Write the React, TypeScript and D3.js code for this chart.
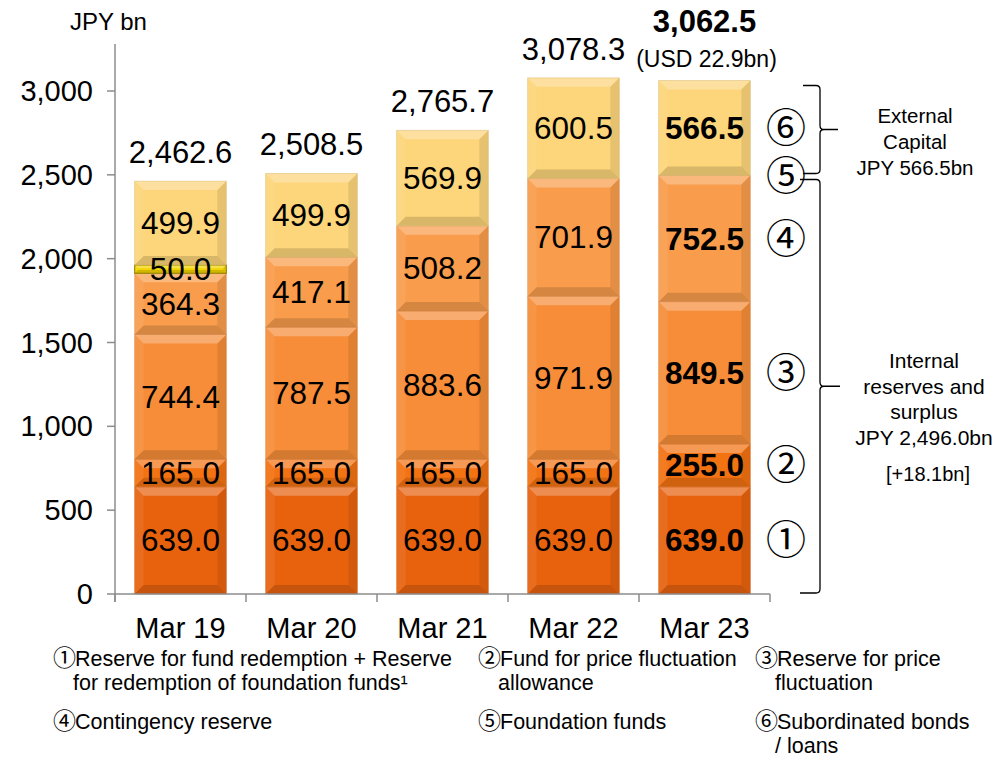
import React from "react";
import * as d3 from "d3";

// Fiscal year-end categories
const categories = ["Mar 19", "Mar 20", "Mar 21", "Mar 22", "Mar 23"];

// Capital components, JPY bn (stacked bottom to top)
const reserveRedemption = [639.0, 639.0, 639.0, 639.0, 639.0]; // ①
const priceFundAllowance = [165.0, 165.0, 165.0, 165.0, 255.0]; // ②
const priceReserve = [744.4, 787.5, 883.6, 971.9, 849.5]; // ③
const contingencyReserve = [364.3, 417.1, 508.2, 701.9, 752.5]; // ④
const foundationFunds = [50.0, 0, 0, 0, 0]; // ⑤
const subordinatedDebt = [499.9, 499.9, 569.9, 600.5, 566.5]; // ⑥

const totals = [2462.6, 2508.5, 2765.7, 3078.3, 3062.5];
const totalLabels = ["2,462.6", "2,508.5", "2,765.7", "3,078.3", "3,062.5"];
const yTicks = [0, 500, 1000, 1500, 2000, 2500, 3000];

const seriesKeys = ["s1", "s2", "s3", "s4", "s5", "s6"];
const seriesMarks = ["①", "②", "③", "④", "⑤", "⑥"];
const seriesColors = ["#E8620E", "#F37212", "#F78D38", "#F99D4C", "#F3D400", "#FDD57A"];

const legendRows = [
  { x: 53, y: 666, mark: "①", lines: ["Reserve for fund redemption + Reserve", "for redemption of foundation funds¹"] },
  { x: 478, y: 666, mark: "②", lines: ["Fund for price fluctuation", "allowance"] },
  { x: 755, y: 666, mark: "③", lines: ["Reserve for price", "fluctuation"] },
  { x: 53, y: 729, mark: "④", lines: ["Contingency reserve"] },
  { x: 478, y: 729, mark: "⑤", lines: ["Foundation funds"] },
  { x: 755, y: 729, mark: "⑥", lines: ["Subordinated bonds", "/ loans"] },
];

const externalText = ["External", "Capital", "JPY 566.5bn"];
const internalText = ["Internal", "reserves and", "surplus", "JPY 2,496.0bn"];
const internalDelta = "[+18.1bn]";

const FONT = "'Liberation Sans', Arial, 'Noto Sans CJK JP', sans-serif";
const MARK_FONT = "'Noto Sans CJK JP', 'DejaVu Sans', sans-serif";

const rows = categories.map((c, i) => ({
  cat: c,
  s1: reserveRedemption[i],
  s2: priceFundAllowance[i],
  s3: priceReserve[i],
  s4: contingencyReserve[i],
  s5: foundationFunds[i],
  s6: subordinatedDebt[i],
}));

function fmt(v: number) {
  return d3.format(",.1f")(v);
}

function BevelRect({ x, y, w, h, color, thin }: { x: number; y: number; w: number; h: number; color: string; thin?: boolean }) {
  const b = Math.min(9, h / 2.6);
  const dark = d3.color(color)!.darker(thin ? 1.4 : 0.5).formatHex();
  return (
    <g>
      <rect x={x} y={y} width={w} height={h} fill={color} />
      {/* top bevel */}
      <polygon points={`${x},${y} ${x + w},${y} ${x + w - b},${y + b} ${x + b},${y + b}`} fill="#fff" opacity={0.28} />
      {/* left bevel */}
      <polygon points={`${x},${y} ${x + b},${y + b} ${x + b},${y + h - b} ${x},${y + h}`} fill="#fff" opacity={0.07} />
      {/* right bevel */}
      <polygon points={`${x + w},${y} ${x + w},${y + h} ${x + w - b},${y + h - b} ${x + w - b},${y + b}`} fill="#000" opacity={0.09} />
      {/* bottom bevel */}
      <polygon points={`${x},${y + h} ${x + b},${y + h - b} ${x + w - b},${y + h - b} ${x + w},${y + h}`} fill="#000" opacity={0.14} />
      <rect x={x} y={y} width={w} height={h} fill="none" stroke={dark} strokeWidth={thin ? 1.2 : 0.8} opacity={thin ? 0.9 : 0.5} />
    </g>
  );
}

export default function App() {
  const width = 996;
  const height = 758;

  const y = d3.scaleLinear().domain([0, 3000]).range([594, 91]);
  const x = d3.scaleBand<string>().domain(categories).range([115, 770]).paddingInner(0.3).paddingOuter(0.15);
  const step = x.step();
  const bw = x.bandwidth();

  const stack = d3.stack<any>().keys(seriesKeys);
  const layers = stack(rows);

  const lastIdx = categories.length - 1;
  const markX = 786;

  // bracket helper: "}" shape between top and bottom, tick at mid
  const bracket = (top: number, bottom: number, x0: number, xv: number, xt: number) => {
    const mid = (top + bottom) / 2;
    const r = 4;
    return `M${x0},${top} H${xv - r} Q${xv},${top} ${xv},${top + r} V${mid - r} Q${xv},${mid} ${xv + r},${mid} H${xt} M${xv + r},${mid} Q${xv},${mid} ${xv},${mid + r} V${bottom - r} Q${xv},${bottom} ${xv - r},${bottom} H${x0}`;
  };

  const extTop = y(totals[lastIdx]) + 5;
  const boundary = y(d3.sum([reserveRedemption, priceFundAllowance, priceReserve, contingencyReserve].map((a) => a[lastIdx])));
  const extBottom = boundary - 2;
  const intTop = boundary + 4;
  const intBottom = y(0) - 1;

  return (
    <svg width={width} height={height} style={{ display: "block", position: "absolute", left: 0, top: 0 }} fontFamily={FONT}>
      <rect width={width} height={height} fill="#fff" />

      {/* unit label */}
      <text x={70} y={30} fontSize={24} fill="#000">JPY bn</text>

      {/* y axis */}
      <line x1={115} x2={115} y1={44} y2={602} stroke="#8c8c8c" strokeWidth={1.5} />
      {yTicks.map((t) => (
        <g key={t}>
          <line x1={107} x2={115} y1={y(t)} y2={y(t)} stroke="#8c8c8c" strokeWidth={1.5} />
          <text x={93} y={y(t) + 10} fontSize={29} textAnchor="end" fill="#000">
            {d3.format(",")(t)}
          </text>
        </g>
      ))}

      {/* bars */}
      {layers.map((layer, li) =>
        layer.map((d, i) => {
          const v = d[1] - d[0];
          if (v <= 0) return null;
          const x0 = x(categories[i])!;
          const y1 = y(d[1]);
          const y0 = y(d[0]);
          return (
            <BevelRect key={`${li}-${i}`} x={x0} y={y1} w={bw} h={y0 - y1} color={seriesColors[li]} thin={li === 4} />
          );
        })
      )}

      {/* x axis */}
      <line x1={115} x2={770} y1={y(0)} y2={y(0)} stroke="#8c8c8c" strokeWidth={1.5} />
      {d3.range(categories.length + 1).map((k) => (
        <line key={k} x1={115 + k * step} x2={115 + k * step} y1={y(0)} y2={y(0) + 8} stroke="#8c8c8c" strokeWidth={1.5} />
      ))}
      {categories.map((c) => (
        <text key={c} x={x(c)! + bw / 2} y={638} fontSize={29} textAnchor="middle" fill="#000">
          {c}
        </text>
      ))}

      {/* segment value labels */}
      {layers.map((layer, li) =>
        layer.map((d, i) => {
          const v = d[1] - d[0];
          if (v <= 0) return null;
          const cy = (y(d[0]) + y(d[1])) / 2;
          const bold = i === lastIdx;
          return (
            <text
              key={`l${li}-${i}`}
              x={x(categories[i])! + bw / 2}
              y={cy + 11}
              fontSize={31.5}
              fontWeight={bold ? "bold" : "normal"}
              textAnchor="middle"
              fill="#000"
            >
              {fmt(v)}
            </text>
          );
        })
      )}

      {/* totals */}
      {categories.map((c, i) => {
        const last = i === lastIdx;
        return (
          <text
            key={`t${c}`}
            x={x(c)! + bw / 2}
            y={last ? 32 : y(totals[i]) - 18}
            fontSize={31}
            fontWeight={last ? "bold" : "normal"}
            textAnchor="middle"
            fill="#000"
          >
            {totalLabels[i]}
          </text>
        );
      })}
      <text x={x(categories[lastIdx])! + bw / 2 + 2} y={67} fontSize={23} textAnchor="middle" fill="#000">
        (USD 22.9bn)
      </text>

      {/* component markers beside last bar */}
      {layers.map((layer, li) => {
        const d = layer[lastIdx];
        const cy = (y(d[0]) + y(d[1])) / 2;
        return (
          <text key={`m${li}`} x={markX} y={cy + 14} fontSize={40} textAnchor="middle" fontFamily={MARK_FONT} fill="#000">
            {seriesMarks[li]}
          </text>
        );
      })}

      {/* brackets */}
      <path d={bracket(extTop, extBottom, 803, 820, 838)} fill="none" stroke="#000" strokeWidth={1.3} />
      <path d={bracket(intTop, intBottom, 800, 820, 840)} fill="none" stroke="#000" strokeWidth={1.3} />

      {externalText.map((t, k) => (
        <text key={`e${k}`} x={915} y={123 + k * 26} fontSize={20.5} textAnchor="middle" fill="#000">
          {t}
        </text>
      ))}
      {internalText.map((t, k) => (
        <text key={`i${k}`} x={924} y={368 + k * 25.5} fontSize={21} textAnchor="middle" fill="#000">
          {t}
        </text>
      ))}
      <text x={928} y={481} fontSize={20} textAnchor="middle" fill="#000">
        {internalDelta}
      </text>

      {/* legend */}
      {legendRows.map((r, k) => (
        <g key={`g${k}`}>
          <text x={r.x} y={r.y} fontSize={23} fontFamily={MARK_FONT} fill="#000">
            {r.mark}
          </text>
          {r.lines.map((ln, j) => (
            <text key={j} x={j === 0 ? r.x + 22 : r.x + 20} y={r.y + j * 24} fontSize={21.5} fill="#000">
              {ln}
            </text>
          ))}
        </g>
      ))}
    </svg>
  );
}
